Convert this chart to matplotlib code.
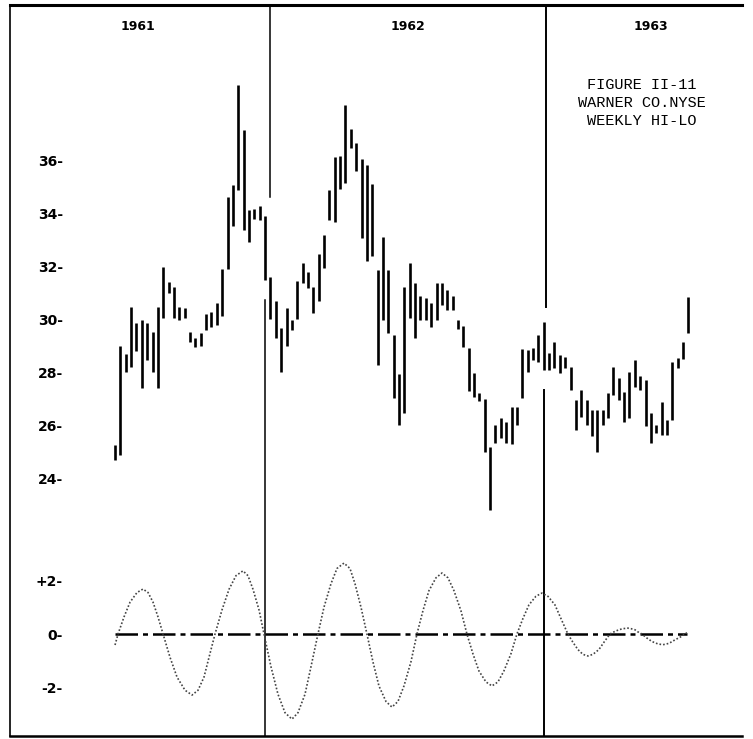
import matplotlib
matplotlib.use("Agg")
import matplotlib.pyplot as plt

# weekly hi-lo bars, one per week (index 0 = first plotted week, mid 1961)
weeks = list(range(108))
highs = [25.25, 28.98, 28.7, 30.45, 29.85, 29.96, 29.85, 29.5, 30.45, 31.96,
         31.4, 31.2, 30.45, 30.4, 29.5, 29.3, 29.47, 30.2, 30.26, 30.6,
         31.9, 34.6, 35.06, 38.83, 37.13, 34.1, 34.15, 34.26, 33.9, 31.6,
         30.7, 29.66, 30.4, 29.96, 31.43, 32.1, 31.77, 31.2, 32.45, 33.17,
         34.87, 36.1, 36.15, 38.08, 37.17, 36.64, 36.04, 35.8, 35.1, 31.85,
         33.1, 31.85, 29.4, 27.92, 31.2, 32.1, 31.36, 30.87, 30.8, 30.6,
         31.36, 31.36, 31.1, 30.87, 29.96, 29.74, 28.9, 27.96, 27.2, 26.98,
         25.17, 26.0, 26.26, 26.1, 26.7, 26.7, 28.87, 28.83, 28.9, 29.4,
         29.9, 28.72, 29.13, 28.64, 28.57, 28.19, 26.94, 27.32, 26.94, 26.57,
         26.57, 26.57, 27.2, 28.19, 27.77, 27.25, 28.0, 28.45, 27.85, 27.7,
         26.45, 26.0, 26.87, 26.19, 28.38, 28.53, 29.13, 30.83]
lows = [24.68, 24.87, 28.0, 28.2, 28.8, 27.4, 28.45, 28.0, 27.4, 30.04,
        31.0, 30.04, 29.96, 30.04, 29.13, 28.94, 28.98, 29.6, 29.7, 29.77,
        30.1, 31.9, 33.5, 34.87, 33.36, 32.9, 33.77, 33.74, 31.47, 30.0,
        29.3, 28.0, 29.0, 29.58, 30.0, 31.36, 31.17, 30.23, 30.7, 31.92,
        33.74, 33.66, 34.9, 35.13, 36.45, 35.58, 33.06, 32.2, 32.38, 28.26,
        29.96, 29.47, 27.02, 26.0, 26.45, 30.04, 29.3, 29.96, 29.96, 29.7,
        29.96, 30.53, 30.34, 30.34, 29.62, 28.94, 27.3, 27.06, 26.9, 24.98,
        22.8, 25.32, 25.5, 25.32, 25.3, 26.0, 27.02, 28.0, 28.45, 28.38,
        28.08, 28.08, 28.15, 27.96, 28.15, 27.32, 25.8, 26.3, 26.0, 25.6,
        24.98, 26.0, 26.26, 27.13, 26.94, 26.1, 26.26, 27.43, 27.32, 25.96,
        25.32, 25.7, 25.62, 25.62, 26.19, 28.15, 28.49, 29.47]

# oscillator (x in the same week units)
osc_x = [0.0, 0.56, 1.68, 2.8, 4.1, 5.22, 6.16, 7.09, 8.02, 8.96,
         10.26, 11.57, 13.06, 14.37, 15.49, 16.6, 17.54, 18.66, 19.96, 21.27,
         22.57, 23.88, 24.81, 25.75, 26.87, 27.8, 29.1, 30.41, 31.72, 33.02,
         34.14, 35.45, 36.57, 37.87, 38.99, 40.3, 41.42, 42.72, 43.84, 44.78,
         45.9, 47.01, 48.13, 49.25, 50.56, 51.68, 52.8, 53.92, 55.22, 56.34,
         57.46, 58.58, 59.89, 61.01, 62.13, 63.25, 64.55, 65.67, 66.79, 67.91,
         69.22, 70.34, 71.46, 72.57, 73.88, 75.0, 76.12, 77.24, 78.54, 79.66,
         80.78, 82.09, 83.21, 84.51, 85.45, 86.38, 87.31, 88.25, 89.18, 90.3,
         91.23, 92.35, 93.1, 94.03, 94.78, 95.71, 96.27, 97.01, 97.57, 98.32,
         99.25, 100.19, 101.31, 102.24, 103.36, 104.48, 105.6, 106.72]
osc_y = [-0.41, 0.0, 0.64, 1.19, 1.55, 1.68, 1.55, 1.19, 0.64, 0.0,
         -0.87, -1.61, -2.1, -2.28, -2.1, -1.61, -0.87, 0.0, 0.9, 1.67,
         2.18, 2.36, 2.18, 1.67, 0.9, 0.0, -1.22, -2.25, -2.94, -3.18,
         -2.94, -2.25, -1.22, 0.0, 1.0, 1.88, 2.45, 2.65, 2.45, 1.88,
         1.0, 0.0, -1.04, -1.94, -2.52, -2.73, -2.52, -1.94, -1.04, 0.0,
         0.87, 1.62, 2.1, 2.28, 2.1, 1.62, 0.87, 0.0, -0.74, -1.38,
         -1.79, -1.94, -1.79, -1.38, -0.74, 0.0, 0.58, 1.09, 1.41, 1.53,
         1.41, 1.09, 0.58, 0.0, -0.31, -0.58, -0.76, -0.82, -0.76, -0.58,
         -0.31, 0.0, 0.08, 0.16, 0.2, 0.22, 0.2, 0.16, 0.08, 0.0,
         -0.15, -0.28, -0.37, -0.4, -0.35, -0.22, -0.1, 0.05]

price_ticks = [24, 26, 28, 30, 32, 34, 36]
osc_ticks = [-2, 0, 2]
osc_labels = ["-2-", "0-", "+2-"]
years = ["1961", "1962", "1963"]
title_lines = ["FIGURE II-11", "WARNER CO.NYSE", "WEEKLY HI-LO"]

W, H = 753, 739
X0, X1 = -19.6, 117.0


def px_rect(left, top, right, bottom):
    return [left / W, 1 - bottom / H, (right - left) / W, (bottom - top) / H]


fig = plt.figure(figsize=(W / 100, H / 100), dpi=100)
fig.patch.set_facecolor("white")

frame = fig.add_axes(px_rect(10, 5, 742, 736))
frame.set_xlim(X0, X1)
frame.set_ylim(0, 1)
frame.set_xticks([])
frame.set_yticks([])
frame.spines["right"].set_visible(False)
frame.spines["top"].set_linewidth(2.2)
frame.spines["left"].set_linewidth(1.2)
frame.spines["bottom"].set_linewidth(1.8)

price_ax = fig.add_axes(px_rect(10, 5, 742, 520))
osc_ax = fig.add_axes(px_rect(10, 520, 742, 736))
for ax in (price_ax, osc_ax):
    ax.set_xlim(X0, X1)
    ax.patch.set_alpha(0)
    for s in ax.spines.values():
        s.set_visible(False)
    ax.set_xticks([])
    ax.tick_params(axis="y", length=0, pad=-38)

price_ax.set_ylim(22.42, 41.85)
osc_ax.set_ylim(-3.81, 4.26)

# year dividers (broken where the bars pass)
price_ax.axvline(28.9, ymin=0.627, ymax=1, color="black", lw=1.1)
price_ax.axvline(28.0, ymin=0, ymax=0.427, color="black", lw=1.1)
osc_ax.axvline(28.0, color="black", lw=1.1)
price_ax.axvline(80.4, ymin=0.413, ymax=1, color="black", lw=1.4)
price_ax.axvline(80.0, ymin=0, ymax=0.252, color="black", lw=1.4)
osc_ax.axvline(80.0, color="black", lw=1.4)

# hi-lo bars
price_ax.vlines(weeks, lows, highs, color="black", lw=1.9)

price_ax.set_yticks(price_ticks)
price_ax.set_yticklabels([f"{t}-" for t in price_ticks],
                         fontsize=10, fontweight="bold")

# oscillator
osc_ax.hlines(0, osc_x[0], osc_x[-1], color="black", lw=1.8,
              linestyles=[(0, (9, 2, 2, 2))])
osc_ax.plot(osc_x, osc_y, color="#444444", lw=1.2, linestyle=(0, (1, 1.2)))
osc_ax.set_yticks(osc_ticks)
osc_ax.set_yticklabels(osc_labels, fontsize=10, fontweight="bold")

# year headers
for xp, label in zip([138, 408, 651], years):
    fig.text(xp / W, 1 - 27 / H, label, ha="center", va="center",
             fontsize=9, fontweight="bold")

for i, line in enumerate(title_lines):
    fig.text(642 / W, 1 - (85 + 18 * i) / H, line, ha="center", va="center",
             fontsize=11, family="Liberation Mono")

fig.savefig("out.png", dpi=100)
